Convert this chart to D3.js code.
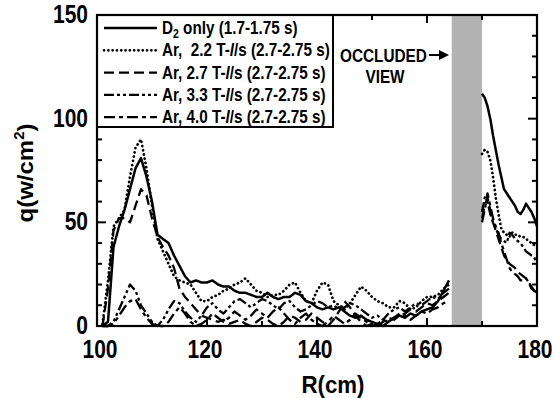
<!DOCTYPE html>
<html><head><meta charset="utf-8">
<script src="https://cdn.jsdelivr.net/npm/d3@7"></script>
<style>
body{margin:0;background:#fff;}
text{font-family:"Liberation Sans",Arial,sans-serif;font-weight:bold;fill:#000;}
</style></head>
<body><svg id="c" width="554" height="398"></svg>
<script>
// ---- data ----
const leftR = [101,102,103,104,105,106,107,108,109,110,111,112,113,114,115,116,117,118,119,120,121,122,123,124,125,126,127,128,129,130,131,132,133,134,135,136,137,138,139,140,141,142,143,144,145,146,147,148,149,150,151,152,153,154,155,156,157,158,159,160,161,162,163,164];
const rightR = [170,170.5,171,171.5,172,172.5,173,173.5,174,174.5,175,175.5,176,176.5,177,177.5,178,178.5,179,179.5,180];

const d2Left   = [0,2,38,48,56,66,76,81,72,60,44,42,40,34,29,24,21,22,21,21,22,20,19,19,17,16,16,15,14,14,16,14,13,14,14,16,15,12,11,9,8,9,8,9,7,5,4,5,3,2,1,0,2,4,5,4,6,5,7,8,9,12,17,22];
const ar22Left = [1,22,48,52,56,72,86,90,76,58,42,36,30,24,22,21,20,16,12,12,14,15,17,18,20,21,23,20,17,16,14,15,15,17,20,21,16,12,11,17,21,20,12,10,8,11,15,19,17,14,12,11,9,9,12,11,8,9,12,14,14,15,18,20];
const ar27Left = [0,18,46,52,52,50,58,66,63,52,43,38,34,28,18,14,11,8,5,4,3,2,3,1,2,3,1,0,2,4,3,1,0,2,5,4,2,3,6,4,2,0,3,7,12,9,5,2,0,1,0,2,4,3,5,6,8,7,9,11,10,12,14,16];
const ar33Left = [0,0,2,8,14,20,17,10,6,2,0,3,8,12,11,7,4,2,5,9,11,8,6,9,12,13,11,9,11,13,12,10,8,11,12,9,7,8,10,12,11,9,10,8,9,11,10,8,6,4,5,3,6,8,9,7,9,11,10,12,14,13,16,18];
const ar40Left = [0,0,1,5,9,12,13,8,4,1,0,0,2,6,9,6,2,0,1,3,6,4,2,4,7,5,3,5,8,6,4,7,9,6,3,1,4,6,3,1,0,2,5,3,1,3,6,4,2,0,1,3,2,4,6,5,3,5,7,6,8,9,11,12];

const d2Right   = [112,110,106,100,92,85,78,72,66,64,62,60,58,55,54,56,59,57,55,52,48];
const ar22Right = [83,85,84,80,72,62,54,47,45,44,43,45,44,44,43,43,42,41,40,39,38];
const ar27Right = [52,58,62,56,50,46,42,38,34,32,30,29,28,26,25,24,23,21,19,17,15];
const ar33Right = [55,62,60,54,50,47,44,42,41,40,45,44,42,41,40,38,36,35,34,33,30];
const ar40Right = [50,56,64,58,52,48,45,40,36,32,28,26,25,24,22,22,23,21,18,17,16];

const seriesNames = ["D2 only (1.7-1.75 s)","Ar,  2.2 T-l/s (2.7-2.75 s)","Ar, 2.7 T-l/s (2.7-2.75 s)","Ar, 3.3 T-l/s (2.7-2.75 s)","Ar, 4.0 T-l/s (2.7-2.75 s)"];
const xTicks = [100,120,140,160,180];
const yTicks = [0,50,100,150];
const occluded = [164.5,170];

// ---- chart ----
const svg = d3.select("#c");
const L=97,R=537,T=15,B=326;
const x = d3.scaleLinear().domain([100,180]).range([L,R]);
const y = d3.scaleLinear().domain([0,150]).range([B,T]);

function squeeze(sel, ax, s){ sel.attr("transform",`translate(${ax},0) scale(${s},1) translate(${-ax},0)`); }

svg.append("rect").attr("x",x(occluded[0])).attr("y",T).attr("width",x(occluded[1])-x(occluded[0])).attr("height",B-T).attr("fill","#b3b3b3");

const styles = [
  {dash:null,w:2.5,cap:"butt"},
  {dash:"0.1,4.2",w:2.7,cap:"round"},
  {dash:"10,5",w:2.3,cap:"butt"},
  {dash:"10,3,3,3,3,3",w:2.3,cap:"butt"},
  {dash:"11,4,4,4",w:2.3,cap:"butt"}
];
const lefts=[d2Left,ar22Left,ar27Left,ar33Left,ar40Left];
const rights=[d2Right,ar22Right,ar27Right,ar33Right,ar40Right];
const line = d3.line().x(d=>x(d[0])).y(d=>y(d[1]));
const g = svg.append("g");
for(let i=4;i>=0;i--){
  const segs=[leftR.map((r,j)=>[r,lefts[i][j]]), rightR.map((r,j)=>[r,rights[i][j]])];
  segs.forEach(s=>{
    g.append("path").attr("d",line(s)).attr("fill","none").attr("stroke","#000")
     .attr("stroke-width",styles[i].w).attr("stroke-dasharray",styles[i].dash)
     .attr("stroke-linecap",styles[i].cap).attr("stroke-linejoin","round");
  });
}

const ticks = svg.append("g");
d3.range(100,181,10).forEach(v=>{
  const len = v%20===0?8:5;
  ticks.append("line").attr("x1",x(v)).attr("x2",x(v)).attr("y1",B).attr("y2",B-len).attr("stroke","#000").attr("stroke-width",2);
  ticks.append("line").attr("x1",x(v)).attr("x2",x(v)).attr("y1",T).attr("y2",T+len).attr("stroke","#000").attr("stroke-width",2);
});
d3.range(0,151,10).forEach(v=>{
  const len = v%50===0?9:5;
  ticks.append("line").attr("x1",L).attr("x2",L+len).attr("y1",y(v)).attr("y2",y(v)).attr("stroke","#000").attr("stroke-width",2);
  ticks.append("line").attr("x1",R).attr("x2",R-len).attr("y1",y(v)).attr("y2",y(v)).attr("stroke","#000").attr("stroke-width",2);
});

const lg = svg.append("g");
lg.append("rect").attr("x",L).attr("y",T).attr("width",236).attr("height",112).attr("fill","#fff").attr("stroke","#000").attr("stroke-width",2);
const legTexts=[];
seriesNames.forEach((n,i)=>{
  const yy = 28 + i*22.3;
  lg.append("line").attr("x1",104).attr("x2",157).attr("y1",yy).attr("y2",yy).attr("stroke","#000")
    .attr("stroke-width",styles[i].w).attr("stroke-dasharray",styles[i].dash).attr("stroke-linecap",styles[i].cap);
  const t = lg.append("text").attr("x",162).attr("y",yy+6).attr("font-size",17.5).attr("xml:space","preserve");
  if(i===0){
    t.append("tspan").text("D");
    t.append("tspan").attr("font-size",12).attr("dy",4).text("2");
    t.append("tspan").attr("dy",-4).text(" only (1.7-1.75 s)");
  } else {
    const parts = n.split("l/s");
    t.append("tspan").text(parts[0]);
    t.append("tspan").attr("font-style","italic").text("l");
    t.append("tspan").text("/s"+parts[1]);
  }
  legTexts.push(t);
});
const ls = 168/legTexts[1].node().getBBox().width;
legTexts.forEach(t=>squeeze(t,162,ls));

svg.append("rect").attr("x",L).attr("y",T).attr("width",R-L).attr("height",B-T).attr("fill","none").attr("stroke","#000").attr("stroke-width",2.2);

xTicks.forEach(v=>{
  const cx = v===100 ? x(v)+3 : x(v)-2;
  const t = svg.append("text").attr("x",cx).attr("y",358).attr("text-anchor","middle").attr("font-size",25).text(v);
  squeeze(t,cx,0.84);
});
yTicks.forEach(v=>{
  const t = svg.append("text").attr("x",88).attr("y",y(v)+8).attr("text-anchor","end").attr("font-size",25).text(v);
  squeeze(t,88,0.84);
});

const xt = svg.append("text").attr("x",333).attr("y",393).attr("text-anchor","middle").attr("font-size",24).text("R(cm)");
squeeze(xt,333,63/xt.node().getBBox().width);
const yt = svg.append("text").attr("transform","translate(33,173) scale(0.95,1) rotate(-90)").attr("text-anchor","middle").attr("font-size",24);
yt.append("tspan").text("q(w/cm");
yt.append("tspan").attr("font-size",15).attr("dy",-9).text("2");
yt.append("tspan").attr("dy",9).text(")");

const oc = svg.append("text").attr("x",340).attr("y",62).attr("font-size",18).text("OCCLUDED");
squeeze(oc,340,87/oc.node().getBBox().width);
svg.append("line").attr("x1",429).attr("x2",442).attr("y1",55).attr("y2",55).attr("stroke","#000").attr("stroke-width",2);
svg.append("path").attr("d","M449,55 L439,50 L439,60 Z").attr("fill","#000");
const vw = svg.append("text").attr("x",385).attr("y",83).attr("text-anchor","middle").attr("font-size",18).text("VIEW");
squeeze(vw,385,0.85);
</script></body></html>
